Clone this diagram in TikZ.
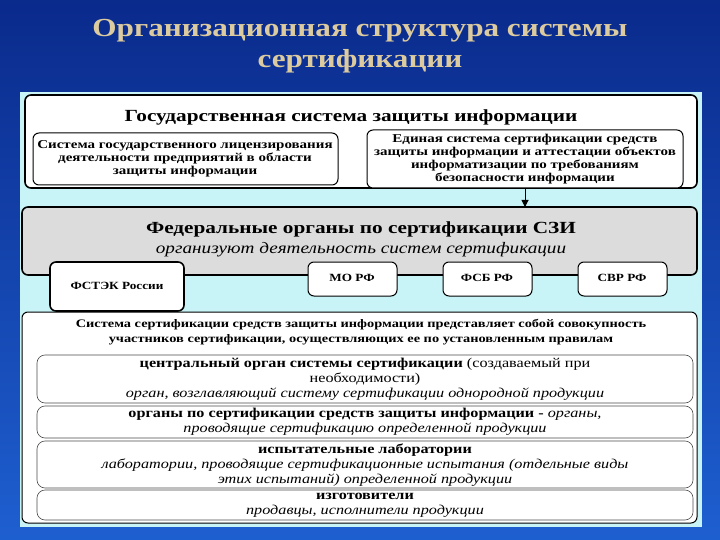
\documentclass[tikz,border=0pt]{standalone}
\usepackage{fontspec}
\setmainfont{Liberation Serif}
\newfontfamily\wide[FakeStretch=1.2]{Liberation Serif}
\newfontfamily\wider[FakeStretch=1.25]{Liberation Serif}
\usetikzlibrary{arrows.meta}
\definecolor{bgA}{HTML}{0A2A8C}
\definecolor{bgB}{HTML}{1E5FD0}
\definecolor{panel}{HTML}{C8F4F8}
\definecolor{titlec}{HTML}{DCCB9E}
\definecolor{grayf}{HTML}{DCDCDC}
\tikzset{
 wbox/.style={draw=black,fill=white,rounded corners=6pt,line width=1.6pt},
 thinbox/.style={draw=black!70,fill=white,rounded corners=8pt,line width=0.6pt},
 lbl/.style={align=center,inner sep=0pt,font=\bfseries},
}
\begin{document}
\begin{tikzpicture}[x=1pt,y=-1pt]
\useasboundingbox (0,0) rectangle (720,540);
\shade[top color=bgA,bottom color=bgB] (0,0) rectangle (720,540);
\node[lbl,text=titlec,font=\wide\bfseries\fontsize{26}{31}\selectfont] (title) at (360,46) {Организационная структура системы\\сертификации};
\fill[panel] (20,92) rectangle (702,527);
% top
\draw[wbox] (25,95) rectangle (697,188);
\node[lbl,font=\wider\bfseries\fontsize{17}{19}\selectfont] (gs) at (351,117) {Государственная система защиты информации};
\draw[wbox,line width=1pt] (33,133) rectangle (338,185);
\node[lbl,font=\wider\bfseries\fontsize{12}{13}\selectfont] (lic) at (185,159) {Система государственного лицензирования\\деятельности предприятий в области\\защиты информации};
\draw[wbox,line width=1pt] (367,130) rectangle (683,188);
\coordinate (ebot) at (525,188);
\node[lbl,font=\wider\bfseries\fontsize{12}{13}\selectfont] (edin) at (525,159) {Единая система сертификации средств\\защиты информации и аттестации объектов\\информатизации по требованиям\\безопасности информации};
% gray
\draw[wbox,fill=grayf] (22,207) rectangle (697,275);
\coordinate (gtop) at (525,207);
\draw[-{Triangle[length=7pt,width=7pt]},line width=1pt] (ebot) -- (gtop);
\node[lbl,font=\wider\bfseries\fontsize{17}{19}\selectfont] (fed) at (361,229) {Федеральные органы по сертификации СЗИ};
\node[lbl,font=\wide\itshape\fontsize{16}{18}\selectfont] (org) at (361,250) {организуют деятельность систем сертификации};
% bottom
\draw[wbox,line width=1pt] (22,312) rectangle (697,523);
\draw[wbox] (50,262) rectangle (184,311);
\node[lbl,font=\wide\bfseries\fontsize{11}{13}\selectfont] (fstek) at (117,286) {ФСТЭК России};
\draw[wbox,line width=1pt] (308,262) rectangle (397,296);
\node[lbl,font=\wide\bfseries\fontsize{11}{13}\selectfont] (mo) at (352,278) {МО РФ};
\draw[wbox,line width=1pt] (443,262) rectangle (532,296);
\node[lbl,font=\wide\bfseries\fontsize{11}{13}\selectfont] (fsb) at (487,278) {ФСБ РФ};
\draw[wbox,line width=1pt] (578,262) rectangle (667,296);
\node[lbl,font=\wide\bfseries\fontsize{11}{13}\selectfont] (svr) at (622,278) {СВР РФ};
\node[lbl,font=\wider\bfseries\fontsize{11.5}{15}\selectfont] (intro) at (361,332) {Система сертификации средств защиты информации представляет собой совокупность\\участников сертификации, осуществляющих ее по установленным правилам};
\draw[thinbox] (37,355) rectangle (693,403);
\node[lbl,font=\wide\fontsize{13.5}{15}\selectfont] (c1) at (365,379) {\textbf{центральный орган системы сертификации} (создаваемый при\\необходимости)\\\textit{орган, возглавляющий систему сертификации однородной продукции}};
\draw[thinbox] (37,406) rectangle (693,438);
\node[lbl,font=\wide\fontsize{13.5}{15}\selectfont] (c2) at (365,422) {\textbf{органы по сертификации средств защиты информации -} \textit{органы,}\\\textit{проводящие сертификацию определенной продукции}};
\draw[thinbox] (37,441) rectangle (693,488);
\node[lbl,font=\wide\fontsize{13.5}{15}\selectfont] (c3) at (365,465) {\textbf{испытательные лаборатории}\\\textit{лаборатории, проводящие сертификационные испытания (отдельные виды}\\\textit{этих испытаний) определенной продукции}};
\draw[thinbox] (37,490) rectangle (693,520);
\node[lbl,font=\wide\fontsize{13.5}{15}\selectfont] (c4) at (365,505) {\textbf{изготовители}\\\textit{продавцы, исполнители продукции}};
\end{tikzpicture}
\end{document}
